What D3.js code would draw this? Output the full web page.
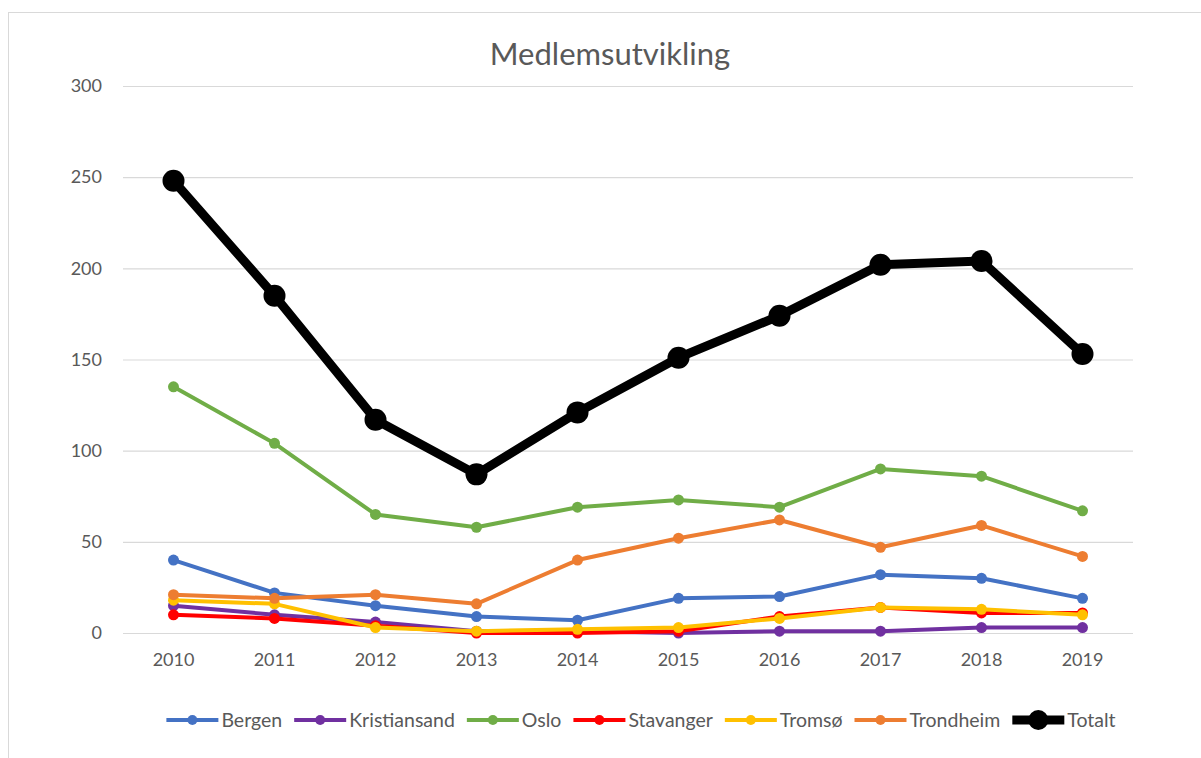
<!DOCTYPE html>
<html>
<head>
<meta charset="utf-8">
<script src="https://cdn.jsdelivr.net/npm/d3@7"></script>
<style>
  body { margin: 0; background: #fff; }
  text { font-family: Lato, "Liberation Sans", sans-serif; }
</style>
</head>
<body>
<div id="chart"></div>
<script>
(function(){

  var width = 1201, height = 758;

  var years = ["2010","2011","2012","2013","2014","2015","2016","2017","2018","2019"];
  var yTicks = [0, 50, 100, 150, 200, 250, 300];

  var bergen       = [40, 22, 15, 9, 7, 19, 20, 32, 30, 19];
  var kristiansand = [15, 10, 6, 1, 1, 0, 1, 1, 3, 3];
  var oslo         = [135, 104, 65, 58, 69, 73, 69, 90, 86, 67];
  var stavanger    = [10, 8, 4, 0, 0, 1, 9, 14, 11, 11];
  var tromso       = [18, 16, 3, 1, 2, 3, 8, 14, 13, 10];
  var trondheim    = [21, 19, 21, 16, 40, 52, 62, 47, 59, 42];
  var totalt       = [248, 185, 117, 87, 121, 151, 174, 202, 204, 153];

  var series = [
    {name: "Bergen", values: bergen, color: "#4472c4"},
    {name: "Kristiansand", values: kristiansand, color: "#7030a0"},
    {name: "Oslo", values: oslo, color: "#70ad47"},
    {name: "Stavanger", values: stavanger, color: "#ff0000"},
    {name: "Tromsø", values: tromso, color: "#ffc000"},
    {name: "Trondheim", values: trondheim, color: "#ed7d31"},
    {name: "Totalt", values: totalt, color: "#000000", big: true}
  ];

  var svg = d3.select("#chart").append("svg")
      .attr("width", width)
      .attr("height", height);

  // chart frame
  svg.append("rect")
      .attr("x", 8.5).attr("y", 12.5)
      .attr("width", 1210).attr("height", 760)
      .attr("fill", "#fff")
      .attr("stroke", "#d9d9d9");

  var x = d3.scaleBand().domain(years).range([123, 1133]);
  var y = d3.scaleLinear().domain([0, 300]).range([633, 86]);

  function cx(i){ return x(years[i]) + x.bandwidth() / 2; }

  svg.append("text")
      .attr("x", 610).attr("y", 65)
      .attr("text-anchor", "middle")
      .attr("font-size", 31)
      .attr("fill", "#595959")
      .text("Medlemsutvikling");

  var yAxis = svg.append("g")
      .attr("transform", "translate(123,0)")
      .call(d3.axisLeft(y).tickValues(yTicks).tickSize(-1010).tickPadding(21));
  yAxis.select(".domain").remove();
  yAxis.selectAll("line").attr("stroke", "#d9d9d9").attr("stroke-width", 1.2);
  yAxis.selectAll("text")
      .attr("font-size", 18)
      .attr("fill", "#595959")
      .style("font-family", "Lato, sans-serif");

  var xAxis = svg.append("g")
      .attr("transform", "translate(0,633)")
      .call(d3.axisBottom(x).tickSize(0).tickPadding(20));
  xAxis.select(".domain").remove();
  xAxis.selectAll("text")
      .attr("font-size", 18)
      .attr("fill", "#595959")
      .style("font-family", "Lato, sans-serif");

  var line = d3.line()
      .x(function(d, i){ return cx(i); })
      .y(function(d){ return y(d); });

  series.forEach(function(s){
    var g = svg.append("g");
    g.append("path")
        .datum(s.values)
        .attr("d", line)
        .attr("fill", "none")
        .attr("stroke", s.color)
        .attr("stroke-width", s.big ? 9 : 4)
        .attr("stroke-linejoin", "round");
    g.selectAll("circle")
        .data(s.values)
      .enter().append("circle")
        .attr("cx", function(d, i){ return cx(i); })
        .attr("cy", function(d){ return y(d); })
        .attr("r", s.big ? 11 : 5.5)
        .attr("fill", s.color);
  });

  // legend
  var legend = svg.append("g");
  var lx = 0, ly = 720;
  series.forEach(function(s, i){
    var item = legend.append("g").attr("transform", "translate(" + lx + ",0)");
    item.append("line")
        .attr("x1", 0).attr("x2", 52)
        .attr("y1", ly).attr("y2", ly)
        .attr("stroke", s.color)
        .attr("stroke-width", s.big ? 9 : 4);
    item.append("circle")
        .attr("cx", 26).attr("cy", ly)
        .attr("r", s.big ? 10 : 5)
        .attr("fill", s.color);
    var t = item.append("text")
        .attr("x", 55).attr("y", ly + 7)
        .attr("font-size", 19.5)
        .attr("fill", "#595959")
        .text(s.name);
    lx += 55 + t.node().getComputedTextLength() + 12;
  });
  var lw = lx - 12;
  legend.attr("transform", "translate(" + (641 - lw / 2) + ",0)");

})();
</script>
</body>
</html>
